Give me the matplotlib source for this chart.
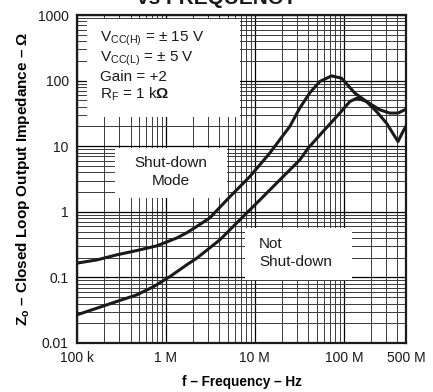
import numpy as np
import matplotlib
matplotlib.use('Agg')
import matplotlib.pyplot as plt
from matplotlib.patches import Rectangle
from matplotlib.ticker import LogLocator, FixedLocator, NullFormatter

plt.rcParams['font.family'] = ['Liberation Sans', 'DejaVu Sans']
plt.rcParams['mathtext.fontset'] = 'custom'
plt.rcParams['mathtext.rm'] = 'Liberation Sans'
plt.rcParams['mathtext.it'] = 'Liberation Sans:italic'
plt.rcParams['mathtext.bf'] = 'Liberation Sans:bold'

# shut-down mode curve (Hz, ohm)
f_sd = [1.0e5, 1.68e5, 2.81e5, 4.72e5, 7.92e5, 1.33e6, 1.72e6, 2.23e6, 3.12e6,
        5.24e6, 8.79e6, 1.47e7, 2.47e7, 3.21e7, 4.15e7, 5.37e7, 7.27e7, 9.42e7,
        1.33e8, 1.80e8, 2.54e8, 3.29e8, 4.07e8, 4.84e8]
z_sd = [0.165, 0.185, 0.221, 0.257, 0.303, 0.40, 0.48, 0.60, 0.81,
        1.7, 3.45, 7.85, 20.0, 38.5, 65.2, 96.9, 118, 109,
        64.5, 48.0, 35.9, 32.0, 32.0, 35.9]

# not shut-down curve
f_on = [1.0e5, 1.68e5, 2.81e5, 4.72e5, 7.33e5, 1.11e6, 1.72e6, 2.23e6, 4.04e6,
        6.78e6, 1.14e7, 1.91e7, 3.21e7, 3.97e7, 5.85e7, 9.02e7, 1.17e8, 1.41e8,
        1.80e8, 2.33e8, 3.02e8, 3.74e8, 4.07e8, 4.63e8, 4.98e8]
z_on = [0.0269, 0.034, 0.043, 0.0543, 0.0727, 0.103, 0.156, 0.197, 0.374,
        0.755, 1.52, 3.07, 6.21, 9.35, 16.8, 32.0, 48.0, 54.1,
        48.0, 33.8, 22.5, 14.1, 11.8, 16.8, 20.0]

xticks = [1e5, 1e6, 1e7, 1e8, 5e8]
xlabels = ['100 k', '1 M', '10 M', '100 M', '500 M']
yticks = [0.01, 0.1, 1, 10, 100, 1000]
ylabels = ['0.01', '0.1', '1', '10', '100', '1000']

fig = plt.figure(figsize=(4.33, 3.92), dpi=100)
ax = fig.add_axes([0.1778, 0.125, 0.7598, 0.8367])

ax.plot(f_sd, z_sd, color='#1a1a1a', lw=2.2, zorder=4, solid_joinstyle='round')
ax.plot(f_on, z_on, color='#1a1a1a', lw=2.2, zorder=4, solid_joinstyle='round')

ax.set_xscale('log')
ax.set_yscale('log')
ax.set_xlim(1e5, 5e8)
ax.set_ylim(0.01, 1000)

ax.xaxis.set_major_locator(FixedLocator(xticks))
ax.set_xticklabels(xlabels)
ax.xaxis.set_minor_locator(LogLocator(base=10, subs=np.arange(2, 10)))
ax.xaxis.set_minor_formatter(NullFormatter())
ax.yaxis.set_major_locator(FixedLocator(yticks))
ax.set_yticklabels(ylabels)
ax.yaxis.set_minor_locator(LogLocator(base=10, subs=np.arange(2, 10)))
ax.yaxis.set_minor_formatter(NullFormatter())

ax.grid(True, which='major', color='black', lw=0.9)
ax.grid(True, which='minor', color='#3a3a3a', lw=0.7)
ax.tick_params(which='both', length=0, labelsize=10, colors='#1a1a1a', pad=6)
for s in ax.spines.values():
    s.set_linewidth(1.6)
    s.set_color('#1a1a1a')

ax.set_xlabel('f – Frequency – Hz', fontsize=9.8, fontweight='bold', labelpad=7)
ax.set_ylabel(r'Z$_\mathbf{o}$ – Closed Loop Output Impedance – Ω', fontsize=11,
              fontweight='bold', labelpad=4)

fig.text(0.5, 0.99, 'vs FREQUENCY', ha='center', va='baseline',
         fontsize=15, fontweight='bold', color='#1a1a1a')

# white label areas (axes fractions)
for x0, y0, w, h in [(0.030, 0.689, 0.465, 0.299),
                     (0.1155, 0.442, 0.3405, 0.153),
                     (0.510, 0.192, 0.326, 0.159)]:
    ax.add_patch(Rectangle((x0, y0), w, h, transform=ax.transAxes,
                           facecolor='white', edgecolor='none', zorder=3))

cond = ('V$_\\mathrm{CC(H)}$ = ± 15 V\n'
        'V$_\\mathrm{CC(L)}$ = ± 5 V\n'
        'Gain = +2\n'
        'R$_\\mathrm{F}$ = 1 k$\\mathbf{Ω}$')
ax.text(0.07, 0.955, cond, transform=ax.transAxes, ha='left', va='top',
        fontsize=11, linespacing=1.15, color='#1a1a1a', zorder=5)
ax.text(0.286, 0.521, 'Shut-down\nMode', transform=ax.transAxes, ha='center',
        va='center', fontsize=11, linespacing=1.3, color='#1a1a1a', zorder=5)
ax.text(0.553, 0.274, 'Not\nShut-down', transform=ax.transAxes, ha='left',
        va='center', fontsize=11, linespacing=1.3, color='#1a1a1a', zorder=5)

fig.savefig('out.png', dpi=100)
